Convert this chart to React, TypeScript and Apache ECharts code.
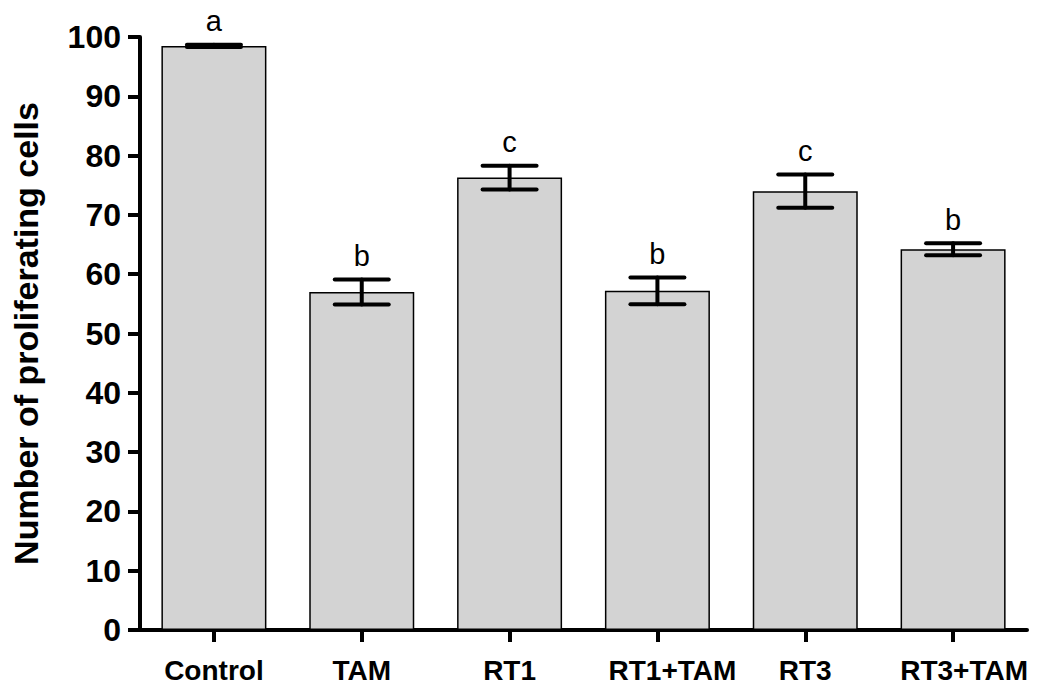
import React, { useEffect, useRef } from "react";
import * as echarts from "echarts";

const categories = ["Control", "TAM", "RT1", "RT1+TAM", "RT3", "RT3+TAM"];
const means = [98.5, 57.0, 76.3, 57.2, 74.0, 64.2];
const sem = [0.2, 2.1, 2.0, 2.25, 2.8, 1.0];
const letters = ["a", "b", "c", "b", "c", "b"];
const yTicks = [0, 10, 20, 30, 40, 50, 60, 70, 80, 90, 100];

const FONT = "'Liberation Sans', Arial, Helvetica, sans-serif";
// small horizontal nudges of some category labels as in the original figure
const labelNudge: Record<string, number> = { "RT1+TAM": 30, "RT3+TAM": 22 };

export default function App() {
  const ref = useRef<HTMLDivElement>(null);
  useEffect(() => {
    if (!ref.current) return;
    const chart = echarts.init(ref.current, null, { renderer: "svg" });
    const errData = categories.map((c, i) => [i, means[i] - sem[i], means[i] + sem[i], letters[i]]);
    chart.setOption({
      animation: false,
      backgroundColor: "#ffffff",
      grid: { left: 140, right: 10, top: 37, bottom: 61, containLabel: false },
      xAxis: {
        type: "category",
        data: categories.map((c) => ({
          value: c,
          textStyle: labelNudge[c] ? { padding: [0, 0, 0, labelNudge[c]] } : {},
        })),
        axisLine: { show: true, lineStyle: { color: "#000", width: 4 } },
        axisTick: { show: true, alignWithLabel: true, length: 12, lineStyle: { color: "#000", width: 4 } },
        axisLabel: { color: "#000", fontSize: 28, fontWeight: "bold", fontFamily: FONT, margin: 26, interval: 0 },
        splitLine: { show: false },
      },
      yAxis: {
        type: "value",
        min: yTicks[0],
        max: yTicks[yTicks.length - 1],
        interval: 10,
        name: "Number of proliferating cells",
        nameLocation: "middle",
        nameGap: 97,
        nameTextStyle: { color: "#000", fontSize: 34, fontWeight: "bold", fontFamily: FONT },
        axisLine: { show: true, lineStyle: { color: "#000", width: 4 } },
        axisTick: { show: true, length: 12, lineStyle: { color: "#000", width: 4 } },
        axisLabel: { color: "#000", fontSize: 32, fontWeight: "bold", fontFamily: FONT, margin: 19 },
        splitLine: { show: false },
      },
      series: [
        {
          type: "bar",
          data: means,
          barWidth: 105,
          itemStyle: { color: "#d3d3d3", borderColor: "#000", borderWidth: 1.5 },
          z: 2,
        },
        {
          type: "custom",
          data: errData,
          z: 5,
          renderItem: (params: any, api: any) => {
            const idx = api.value(0);
            const lo = api.coord([idx, api.value(1)]);
            const hi = api.coord([idx, api.value(2)]);
            const half = 27;
            const st = { stroke: "#000", lineWidth: 4, lineCap: "round" };
            return {
              type: "group",
              children: [
                { type: "line", shape: { x1: hi[0], y1: hi[1], x2: lo[0], y2: lo[1] }, style: st },
                { type: "line", shape: { x1: hi[0] - half, y1: hi[1], x2: hi[0] + half, y2: hi[1] }, style: st },
                { type: "line", shape: { x1: lo[0] - half, y1: lo[1], x2: lo[0] + half, y2: lo[1] }, style: st },
                {
                  type: "text",
                  x: hi[0],
                  y: hi[1] - 9,
                  style: {
                    text: letters[params.dataIndex],
                    fontSize: 29,
                    fontFamily: FONT,
                    fill: "#000",
                    textAlign: "center",
                    textVerticalAlign: "bottom",
                  },
                },
              ],
            };
          },
        },
      ],
    });
    return () => chart.dispose();
  }, []);
  return <div ref={ref} style={{ position: "absolute", left: 0, top: 0, width: 1037, height: 691 }} />;
}
